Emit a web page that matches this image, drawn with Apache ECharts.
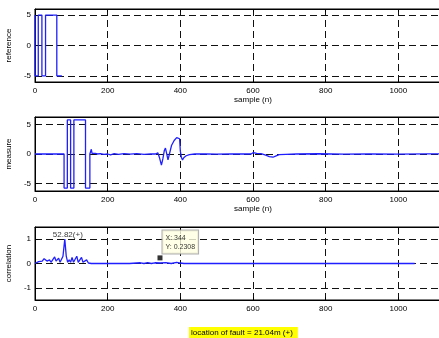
<!DOCTYPE html>
<html>
<head>
<meta charset="utf-8">
<script src="https://cdn.jsdelivr.net/npm/echarts@6/dist/echarts.min.js"></script>
<style>
  html, body { margin: 0; padding: 0; background: #fff; }
  #chart { width: 439px; height: 338px; }
</style>
</head>
<body>
<div id="chart"></div>
<script>
// reference pulse code
const refSamples = [0, 0, 9, 9, 19, 19, 29, 29, 60, 60, 74];
const refValues = [5, -5, -5, 5, 5, -5, -5, 5, 5, -5, -5];

// measured signal
const measureSamples = [0, 80, 80, 89, 89, 98, 98, 107, 107, 139,
  139, 151, 151, 153, 155, 157, 160, 166, 172, 180,
  190, 200, 208, 218, 230, 245, 262, 280, 300, 318,
  332, 338, 342, 348, 352, 356, 359, 362, 366, 370,
  376, 383, 390, 395, 398, 400, 403, 406, 410, 416,
  425, 440, 470, 500, 540, 580, 595, 601, 610, 622,
  635, 645, 655, 662, 672, 690, 720, 780, 850, 920,
  1000, 1080, 1150, 1200];
const measureValues = [0, 0, -5.8, -5.8, 5.8, 5.8, -5.8, -5.8, 5.8, 5.8,
  -5.8, -5.8, 0, 0.1, 0.8, 0.1, -0.05, 0.1, 0, 0.05,
  -0.05, 0, -0.15, 0.05, -0.05, 0.05, -0.03, 0.05, -0.05, 0.03,
  0, 0.2, -0.5, -1.9, -0.8, 0.6, 1.0, 0.2, -1.0, 0,
  1.5, 2.3, 2.8, 3.0, 2.6, 0.5, -0.6, -1.0, -0.6, -0.3,
  -0.1, 0, 0.03, -0.03, 0.03, 0, 0, 0.25, 0.1, 0.05,
  -0.2, -0.45, -0.55, -0.35, -0.1, -0.05, 0, 0.04, -0.03, 0.03,
  -0.02, 0.03, 0, 0];

// cross correlation
const corrSamples = [0, 5, 10, 15, 20, 25, 29, 33, 36, 40,
  44, 49, 54, 58, 61, 65, 69, 73, 77, 82,
  86, 90, 94, 98, 102, 106, 110, 115, 119, 123,
  128, 132, 137, 142, 147, 155, 200, 260, 290, 300,
  310, 320, 330, 345, 360, 375, 390, 400, 410, 440,
  500, 600, 700, 800, 900, 1000, 1045];
const corrValues = [0, 0.02, 0.08, 0.03, 0.1, 0.2, 0.27, 0.1, 0.02, 0.15,
  0.05, 0.1, 0.27, 0.1, 0.05, 0.22, 0.05, 0.1, 0.3, 1.0,
  0.3, 0.05, 0.15, 0.05, 0.25, 0.05, 0.1, 0.3, 0.05, 0.1,
  0.25, 0.05, 0.08, 0.15, 0.02, 0, 0, 0, 0.03, 0,
  0.04, 0, 0.03, 0.02, 0.04, 0, 0.05, 0.02, 0, 0,
  0, 0, 0, 0, 0, 0, 0];

const peakPoint = [82, 1];
const peakText = '52.82(+)';
const tipPoint = [344, 0.2308];
const faultText = 'location of fault = 21.04m (+)';

const yNames = ['reference', 'measure', 'correlation'];
const yRanges = [[-6, 6], [-6.3, 6.3], [-1.5, 1.5]];
const yTicks = [[-5, 0, 5], [-5, 0, 5], [-1, 0, 1]];
const xMax = 1200;

const FONT = '"Liberation Sans", Arial, Helvetica, sans-serif';
const zip = (xs, ys) => xs.map((x, i) => [x, ys[i]]);

const grids = [
  { left: 35, top: 9, width: 436, height: 73 },
  { left: 35, top: 117, width: 436, height: 74 },
  { left: 35, top: 227, width: 436, height: 73 }
].map(g => Object.assign(g, {
  show: true, backgroundColor: '#fff', borderColor: '#000', borderWidth: 1,
  containLabel: false, outerBoundsMode: 'none'
}));

const dash = { type: [7, 4], color: '#111', width: 1 };

const xAxes = [];
[0, 1, 2].forEach(i => {
  xAxes.push({
    gridIndex: i, type: 'value', min: 0, max: xMax, interval: 200,
    name: i < 2 ? 'sample (n)' : '', nameLocation: 'middle', nameGap: 13,
    nameTextStyle: { fontSize: 8, color: '#000', fontFamily: FONT },
    axisLine: { show: true, onZero: false, lineStyle: { color: '#000' } },
    axisTick: { inside: true, length: 3, lineStyle: { color: '#000' } },
    axisLabel: { fontSize: 8, color: '#000', margin: 5, fontFamily: FONT, formatter: v => String(v) },
    splitLine: { show: true, lineStyle: dash }
  });
});
[0, 1, 2].forEach(i => {
  xAxes.push({
    gridIndex: i, type: 'value', position: 'top', min: 0, max: xMax, interval: 200,
    axisLine: { show: true, onZero: false, lineStyle: { color: '#000' } },
    axisTick: { inside: true, length: 3, lineStyle: { color: '#000' } },
    axisLabel: { show: false },
    splitLine: { show: false }
  });
});

const yAxes = [0, 1, 2].map(i => ({
  gridIndex: i, type: 'value', min: yRanges[i][0], max: yRanges[i][1],
  name: yNames[i], nameLocation: 'middle', nameGap: 13, nameRotate: 90,
  nameTextStyle: { fontSize: 8, color: '#000', fontFamily: FONT },
  axisLine: { show: true, onZero: false, lineStyle: { color: '#000' } },
  axisTick: { show: true, inside: true, length: 3, customValues: yTicks[i], lineStyle: { color: '#000' } },
  axisLabel: { fontSize: 8, color: '#000', margin: 4, fontFamily: FONT, customValues: yTicks[i] },
  splitLine: { show: true, lineStyle: dash }
}));

const lineStyle = { color: '#1f1fff', width: 1.3 };

const option = {
  animation: false,
  backgroundColor: '#fff',
  title: {
    text: faultText, left: 189, top: 327,
    backgroundColor: '#ffff00', padding: [1, 5, 1, 2],
    textStyle: { fontSize: 8, fontWeight: 'normal', color: '#000', fontFamily: FONT, lineHeight: 10 }
  },
  grid: grids,
  xAxis: xAxes,
  yAxis: yAxes,
  series: [
    { type: 'line', xAxisIndex: 0, yAxisIndex: 0, data: zip(refSamples, refValues),
      showSymbol: false, lineStyle: lineStyle, silent: true, z: 5 },
    { type: 'line', xAxisIndex: 1, yAxisIndex: 1, data: zip(measureSamples, measureValues),
      showSymbol: false, lineStyle: lineStyle, silent: true, z: 5 },
    { type: 'line', xAxisIndex: 2, yAxisIndex: 2, data: zip(corrSamples, corrValues),
      showSymbol: false, lineStyle: lineStyle, silent: true, z: 5 },
    { type: 'scatter', xAxisIndex: 2, yAxisIndex: 2, data: [peakPoint], symbolSize: 0,
      label: { show: true, position: 'top', distance: 0, offset: [3, 0], formatter: peakText,
        fontSize: 8, color: '#000', fontFamily: FONT } },
    { type: 'scatter', xAxisIndex: 2, yAxisIndex: 2, data: [tipPoint], symbol: 'rect', symbolSize: 5,
      itemStyle: { color: '#000' }, z: 6,
      label: { show: true, position: [5, -25], fontSize: 7, lineHeight: 9, color: '#000', fontFamily: FONT,
        backgroundColor: '#ffffe1', borderColor: '#9a9a9a', borderWidth: 1, padding: [3, 3, 2, 3],
        formatter: p => 'X: ' + p.value[0] + '\nY: ' + p.value[1] } }
  ]
};

const chart = echarts.init(document.getElementById('chart'), null, { renderer: 'canvas' });
chart.setOption(option);
</script>
</body>
</html>
